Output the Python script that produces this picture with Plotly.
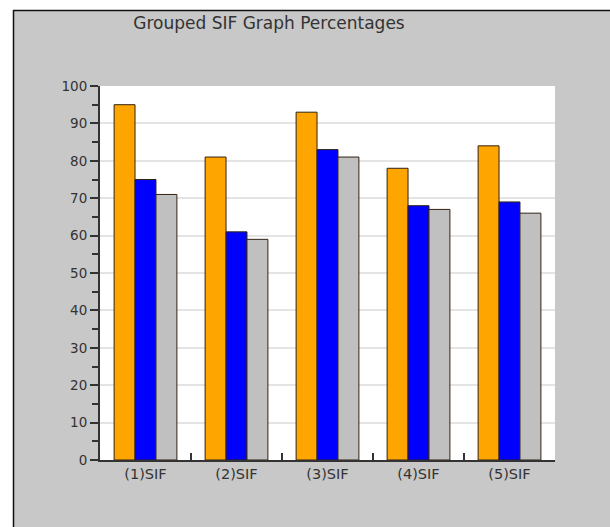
import plotly.graph_objects as go

categories = ["(1)SIF", "(2)SIF", "(3)SIF", "(4)SIF", "(5)SIF"]
series_a = [95, 81, 93, 78, 84]
series_b = [75, 61, 83, 68, 69]
series_c = [71, 59, 81, 67, 66]
colors = ["#FFA500", "#0000FF", "#C0C0C0"]

W, H = 610, 527
L, R, T, B = 100, 55, 86, 67
PW, PH = W - L - R, H - T - B


def px_x(sx):
    return (sx - L) / PW


def px_y(sy):
    return (H - B - sy) / PH


fig = go.Figure()
for vals, col in zip([series_a, series_b, series_c], colors):
    fig.add_trace(go.Bar(x=categories, y=vals, marker=dict(color=col, line=dict(color="#332211", width=1)),
                         showlegend=False, hoverinfo="skip"))

shapes = [
    dict(type="rect", xref="paper", yref="paper", x0=px_x(0), x1=px_x(13), y0=-0.3, y1=1.3,
         fillcolor="white", line=dict(width=0), layer="above"),
    dict(type="rect", xref="paper", yref="paper", x0=-0.3, x1=1.3, y0=px_y(10), y1=1.3,
         fillcolor="white", line=dict(width=0), layer="above"),
    dict(type="line", xref="paper", yref="paper", x0=px_x(13.5), x1=px_x(13.5),
         y0=-0.3, y1=px_y(10), line=dict(color="#111", width=1.5), layer="above"),
    dict(type="line", xref="paper", yref="paper", x0=px_x(13), x1=1.3,
         y0=px_y(10.5), y1=px_y(10.5), line=dict(color="#111", width=1.5), layer="above"),
]

fig.update_layout(
    width=W, height=H,
    margin=dict(l=L, r=R, t=T, b=B),
    paper_bgcolor="#c8c8c8", plot_bgcolor="white",
    barmode="group", bargap=0.31, bargroupgap=0,
    font=dict(family="DejaVu Sans", color="#333"),
    title=dict(text="Grouped SIF Graph Percentages", xref="container", yref="container",
               x=269 / W, y=1 - 23 / H, xanchor="center", yanchor="middle",
               font=dict(size=17, color="#333")),
    shapes=shapes,
)
fig.update_xaxes(showline=True, linecolor="#333", linewidth=2, ticks="inside", tickson="boundaries",
                 ticklen=7, tickcolor="#333", tickwidth=1.5, showgrid=False,
                 tickfont=dict(size=14.5, color="#333"))
fig.update_yaxes(range=[0, 100], dtick=10, showline=True, linecolor="#333", linewidth=2,
                 ticks="outside", ticklen=8, tickcolor="#333", tickwidth=1.5,
                 minor=dict(dtick=5, ticks="outside", ticklen=6, tickcolor="#333", tickwidth=1.5, showgrid=False),
                 showgrid=True, gridcolor="#e4e4e4", gridwidth=1.5, zeroline=False,
                 tickfont=dict(size=13.5, color="#333"))

fig.write_html("out.html", config={"displayModeBar": False},
               post_script="document.body.style.margin='0';document.body.style.overflow='hidden';")
